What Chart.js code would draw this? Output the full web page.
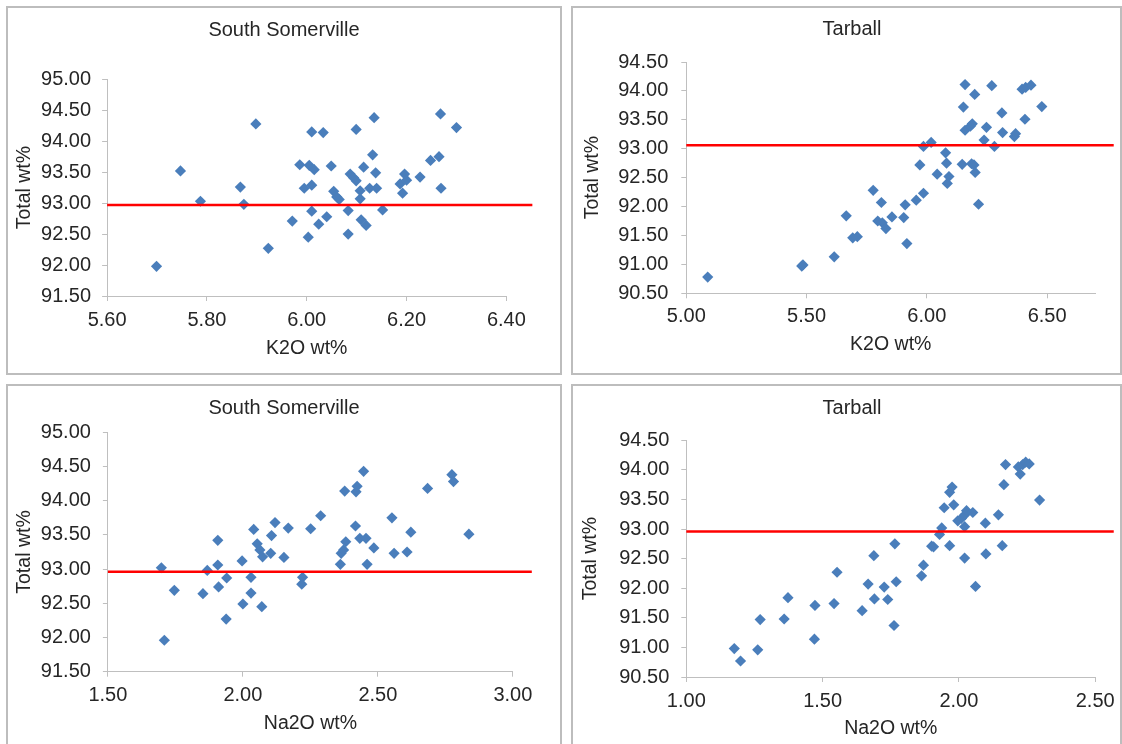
<!DOCTYPE html>
<html>
<head>
<meta charset="utf-8">
<script src="https://cdn.jsdelivr.net/npm/chart.js@4.4.1/dist/chart.umd.min.js"></script>
<style>
  html, body { margin: 0; padding: 0; background: #ffffff; }
  body { position: relative; width: 1122px; height: 744px; overflow: hidden; }
  .frame { position: absolute; box-sizing: border-box; border: 2px solid #bdbdbd; }
  canvas { position: absolute; }
</style>
</head>
<body>
<div class="frame" style="left:6px;top:6px;width:556px;height:369px"></div>
<div class="frame" style="left:571px;top:6px;width:551px;height:369px"></div>
<div class="frame" style="left:6px;top:384px;width:556px;height:380px"></div>
<div class="frame" style="left:571px;top:384px;width:551px;height:380px"></div>
<canvas id="c1" width="554" height="367" style="left:7px;top:7px"></canvas>
<canvas id="c2" width="560" height="367" style="left:572px;top:7px"></canvas>
<canvas id="c3" width="554" height="359" style="left:7px;top:385px"></canvas>
<canvas id="c4" width="560" height="359" style="left:572px;top:385px"></canvas>
<script>
// ---------- DATA ----------
// South Somerville: K2O wt% vs Total wt%
const ssK2O = [5.699, 5.747, 5.787, 5.867, 5.874, 5.898, 5.923, 5.971, 5.986, 5.995, 6.005, 6.003, 6.010, 6.010, 6.010, 6.015, 6.033, 6.024, 6.040, 6.049, 6.054, 6.060, 6.065, 6.083, 6.083, 6.087, 6.094, 6.099, 6.099, 6.107, 6.107, 6.109, 6.119, 6.114, 6.126, 6.132, 6.135, 6.138, 6.140, 6.152, 6.187, 6.192, 6.196, 6.200, 6.227, 6.248, 6.265, 6.268, 6.269, 6.300];
const ssK2OTotal = [91.98, 93.52, 93.03, 93.26, 92.98, 94.28, 92.27, 92.71, 93.62, 93.24, 93.61, 92.45, 94.15, 93.29, 92.87, 93.54, 94.14, 92.66, 92.78, 93.60, 93.19, 93.10, 93.06, 92.88, 92.50, 93.47, 93.41, 93.36, 94.19, 93.20, 93.07, 92.73, 92.64, 93.58, 93.24, 93.78, 94.38, 93.49, 93.24, 92.89, 93.31, 93.16, 93.47, 93.37, 93.42, 93.69, 93.75, 94.44, 93.24, 94.22];
// Tarball: K2O wt% vs Total wt%
const tbK2O = [5.089, 5.480, 5.485, 5.615, 5.665, 5.692, 5.711, 5.777, 5.811, 5.796, 5.815, 5.830, 5.855, 5.904, 5.910, 5.917, 5.956, 5.986, 5.971, 5.986, 6.018, 6.043, 6.078, 6.082, 6.085, 6.092, 6.147, 6.152, 6.159, 6.159, 6.181, 6.189, 6.186, 6.196, 6.199, 6.201, 6.215, 6.238, 6.248, 6.270, 6.281, 6.312, 6.315, 6.364, 6.369, 6.396, 6.408, 6.411, 6.433, 6.478];
const tbK2OTotal = [90.78, 90.97, 90.99, 91.13, 91.84, 91.46, 91.48, 92.28, 92.07, 91.75, 91.72, 91.62, 91.82, 91.81, 92.03, 91.36, 92.11, 92.23, 92.72, 93.04, 93.11, 92.56, 92.93, 92.75, 92.40, 92.52, 92.73, 93.72, 94.11, 93.32, 93.39, 93.43, 92.74, 92.72, 93.94, 92.59, 92.04, 93.15, 93.37, 94.09, 93.04, 93.62, 93.28, 93.21, 93.26, 94.03, 93.51, 94.06, 94.10, 93.73];
// South Somerville: Na2O wt% vs Total wt%
const ssNa2O = [1.698, 1.709, 1.746, 1.852, 1.868, 1.907, 1.907, 1.910, 1.940, 1.938, 1.997, 2.000, 2.030, 2.030, 2.040, 2.053, 2.063, 2.073, 2.070, 2.103, 2.106, 2.119, 2.152, 2.168, 2.221, 2.218, 2.251, 2.288, 2.361, 2.364, 2.373, 2.377, 2.381, 2.417, 2.419, 2.423, 2.433, 2.447, 2.456, 2.460, 2.485, 2.552, 2.560, 2.608, 2.622, 2.684, 2.774, 2.780, 2.837];
const ssNa2OTotal = [93.02, 91.96, 92.69, 92.64, 92.98, 93.42, 93.06, 92.74, 92.87, 92.27, 93.12, 92.49, 92.88, 92.65, 93.58, 93.37, 93.28, 93.18, 92.45, 93.23, 93.49, 93.68, 93.17, 93.60, 92.88, 92.78, 93.59, 93.78, 93.07, 93.23, 93.28, 94.14, 93.40, 93.63, 94.13, 94.21, 93.45, 94.43, 93.45, 93.07, 93.31, 93.75, 93.23, 93.25, 93.54, 94.18, 94.38, 94.28, 93.51];
// Tarball: Na2O wt% vs Total wt%
const tbNa2O = [1.176, 1.199, 1.262, 1.271, 1.359, 1.373, 1.470, 1.472, 1.542, 1.553, 1.645, 1.667, 1.688, 1.690, 1.726, 1.739, 1.762, 1.765, 1.770, 1.863, 1.870, 1.900, 1.907, 1.929, 1.937, 1.946, 1.966, 1.966, 1.975, 1.981, 1.996, 2.009, 2.021, 2.022, 2.028, 2.021, 2.051, 2.061, 2.097, 2.099, 2.145, 2.159, 2.165, 2.171, 2.218, 2.225, 2.234, 2.245, 2.258, 2.296];
const tbNa2OTotal = [90.98, 90.77, 90.96, 91.47, 91.48, 91.84, 91.14, 91.71, 91.74, 92.27, 91.62, 92.07, 92.55, 91.82, 92.02, 91.81, 91.37, 92.75, 92.11, 92.21, 92.39, 92.71, 92.70, 92.91, 93.02, 93.36, 92.72, 93.62, 93.71, 93.41, 93.14, 93.18, 93.04, 93.24, 93.31, 92.51, 93.28, 92.03, 93.10, 92.58, 93.24, 92.72, 93.75, 94.09, 94.05, 93.93, 94.09, 94.13, 94.10, 93.49];

// Red reference (mean total) lines: x extent and level
const ssK2ORefX = [5.60, 6.452];  const ssK2ORefY = [92.97, 92.97];
const tbK2ORefX = [5.00, 6.777];  const tbK2ORefY = [93.06, 93.06];
const ssNa2ORefX = [1.50, 3.07];  const ssNa2ORefY = [92.96, 92.96];
const tbNa2ORefX = [1.00, 2.568]; const tbNa2ORefY = [92.96, 92.96];

// Tick labels
const ssK2OTicks = [5.60, 5.80, 6.00, 6.20, 6.40];
const tbK2OTicks = [5.00, 5.50, 6.00, 6.50];
const ssNa2OTicks = [1.50, 2.00, 2.50, 3.00];
const tbNa2OTicks = [1.00, 1.50, 2.00, 2.50];
const ssTotalTicks = [91.50, 92.00, 92.50, 93.00, 93.50, 94.00, 94.50, 95.00];
const tbTotalTicks = [90.50, 91.00, 91.50, 92.00, 92.50, 93.00, 93.50, 94.00, 94.50];

const titles = ['South Somerville', 'Tarball', 'South Somerville', 'Tarball'];
const xTitles = ['K2O wt%', 'K2O wt%', 'Na2O wt%', 'Na2O wt%'];
const yTitle = 'Total wt%';

// ---------- STYLE / LAYOUT ----------
const FONT = '"Liberation Sans", Arial, Helvetica, sans-serif';
const TEXT = '#262626';
const AXIS = '#bfbfbf';
const BLUE = '#4a7ebb';

function zip(xs, ys) { return xs.map((x, i) => ({ x: x, y: ys[i] })); }

function makePanel(id, o) {
  new Chart(document.getElementById(id), {
    type: 'scatter',
    data: {
      datasets: [
        {
          data: zip(o.refX, o.refY),
          showLine: true,
          borderColor: '#ff0000',
          borderWidth: 2.5,
          pointRadius: 0,
          pointHoverRadius: 0,
          clip: false,
          order: 0
        },
        {
          data: zip(o.xs, o.ys),
          pointStyle: 'rectRot',
          pointRadius: 5.6,
          pointHoverRadius: 5.6,
          backgroundColor: BLUE,
          borderColor: BLUE,
          borderWidth: 0,
          order: 1
        }
      ]
    },
    options: {
      responsive: false,
      animation: false,
      events: [],
      layout: { padding: 0 },
      plugins: {
        legend: { display: false },
        tooltip: { enabled: false },
        title: {
          display: true,
          text: o.title,
          color: TEXT,
          font: { family: FONT, size: 20, weight: 'normal' },
          padding: { top: o.tTop, bottom: o.tBottom }
        }
      },
      scales: {
        x: {
          type: 'linear',
          position: 'bottom',
          min: o.xTicks[0],
          max: o.xMax,
          afterBuildTicks: s => { s.ticks = o.xTicks.map(v => ({ value: v })); },
          afterFit: s => { s.height = o.xH; },
          grid: { display: true, drawOnChartArea: false, drawTicks: true, tickLength: 5, color: AXIS },
          border: { display: true, color: AXIS, width: 1 },
          ticks: {
            color: TEXT, padding: o.xPad, maxRotation: 0, autoSkip: false,
            font: { family: FONT, size: 20 },
            callback: v => Number(v).toFixed(2)
          },
          title: {
            display: true, text: o.xTitle, color: TEXT,
            font: { family: FONT, size: 19.5 },
            padding: { top: 0, bottom: o.xTitlePad }
          }
        },
        y: {
          type: 'linear',
          position: 'left',
          min: o.yTicks[0],
          max: o.yTicks[o.yTicks.length - 1],
          afterBuildTicks: s => { s.ticks = o.yTicks.map(v => ({ value: v })); },
          afterFit: s => { s.width = o.yW; },
          grid: { display: true, drawOnChartArea: false, drawTicks: true, tickLength: 5, color: AXIS },
          border: { display: true, color: AXIS, width: 1 },
          ticks: {
            color: TEXT, padding: o.yPad, autoSkip: false,
            font: { family: FONT, size: 20 },
            callback: v => Number(v).toFixed(2)
          },
          title: {
            display: true, text: yTitle, color: TEXT,
            font: { family: FONT, size: 19.5 },
            padding: { top: o.yTitlePad, bottom: 0 }
          }
        },
        rpad: {
          type: 'linear',
          position: 'right',
          display: true,
          grid: { display: false },
          border: { display: false },
          ticks: { display: false },
          afterFit: s => { s.width = o.rW; }
        }
      }
    }
  });
}

makePanel('c1', {
  xs: ssK2O, ys: ssK2OTotal, refX: ssK2ORefX, refY: ssK2ORefY,
  xTicks: ssK2OTicks, xMax: 6.40, yTicks: ssTotalTicks,
  title: titles[0], xTitle: xTitles[0],
  tTop: 11.7, tBottom: 36.6, xH: 78, xPad: 7.7, xTitlePad: 14,
  yW: 100.1, yPad: 11, yTitlePad: 5.6, rW: 54.6
});
makePanel('c2', {
  xs: tbK2O, ys: tbK2OTotal, refX: tbK2ORefX, refY: tbK2ORefY,
  xTicks: tbK2OTicks, xMax: 6.70, yTicks: tbTotalTicks,
  title: titles[1], xTitle: xTitles[1],
  tTop: 10.3, tBottom: 20.7, xH: 80.7, xPad: 6.4, xTitlePad: 17.3,
  yW: 114.3, yPad: 13, yTitlePad: 8.7, rW: 36.8
});
makePanel('c3', {
  xs: ssNa2O, ys: ssNa2OTotal, refX: ssNa2ORefX, refY: ssNa2ORefY,
  xTicks: ssNa2OTicks, xMax: 3.00, yTicks: ssTotalTicks,
  title: titles[2], xTitle: xTitles[2],
  tTop: 11.3, tBottom: 12, xH: 72.3, xPad: 7, xTitlePad: 9,
  yW: 100.9, yPad: 12, yTitlePad: 5.6, rW: 48.1
});
makePanel('c4', {
  xs: tbNa2O, ys: tbNa2OTotal, refX: tbNa2ORefX, refY: tbNa2ORefY,
  xTicks: tbNa2OTicks, xMax: 2.50, yTicks: tbTotalTicks,
  title: titles[3], xTitle: xTitles[3],
  tTop: 11.3, tBottom: 20, xH: 67, xPad: 7, xTitlePad: 4,
  yW: 114.3, yPad: 12, yTitlePad: 6.9, rW: 36.8
});
</script>
</body>
</html>
